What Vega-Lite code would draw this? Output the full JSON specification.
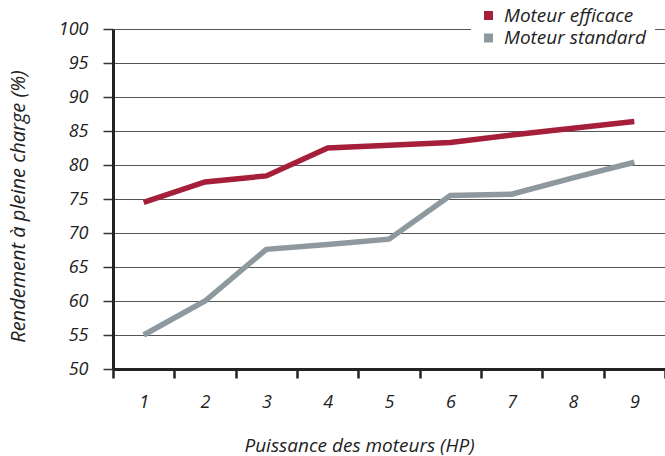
{
  "$schema": "https://vega.github.io/schema/vega-lite/v6.json",
  "width": 552,
  "height": 340,
  "autosize": "none",
  "padding": {"left": 113, "top": 29, "right": 0, "bottom": 87},
  "background": "white",
  "config": {"view": {"stroke": null}, "font": "Open Sans"},
  "data": {
    "values": [
      {"hp": "1", "moteur": "Moteur efficace", "rendement": 74.5},
      {"hp": "2", "moteur": "Moteur efficace", "rendement": 77.5},
      {"hp": "3", "moteur": "Moteur efficace", "rendement": 78.4},
      {"hp": "4", "moteur": "Moteur efficace", "rendement": 82.5},
      {"hp": "5", "moteur": "Moteur efficace", "rendement": 82.9},
      {"hp": "6", "moteur": "Moteur efficace", "rendement": 83.3},
      {"hp": "7", "moteur": "Moteur efficace", "rendement": 84.4},
      {"hp": "8", "moteur": "Moteur efficace", "rendement": 85.4},
      {"hp": "9", "moteur": "Moteur efficace", "rendement": 86.4},
      {"hp": "1", "moteur": "Moteur standard", "rendement": 55.0},
      {"hp": "2", "moteur": "Moteur standard", "rendement": 60.0},
      {"hp": "3", "moteur": "Moteur standard", "rendement": 67.6},
      {"hp": "4", "moteur": "Moteur standard", "rendement": 68.3},
      {"hp": "5", "moteur": "Moteur standard", "rendement": 69.1},
      {"hp": "6", "moteur": "Moteur standard", "rendement": 75.5},
      {"hp": "7", "moteur": "Moteur standard", "rendement": 75.7},
      {"hp": "8", "moteur": "Moteur standard", "rendement": 78.1},
      {"hp": "9", "moteur": "Moteur standard", "rendement": 80.4}
    ]
  },
  "mark": {"type": "line", "strokeWidth": 5.5},
  "encoding": {
    "x": {
      "field": "hp",
      "type": "ordinal",
      "scale": {"type": "band", "paddingInner": 0, "paddingOuter": 0},
      "axis": {
        "title": "Puissance des moteurs (HP)",
        "labelAngle": 0,
        "labelFontSize": 18,
        "labelFontStyle": "italic",
        "labelColor": "#222",
        "labelPadding": 15,
        "tickBand": "extent",
        "tickSize": 9,
        "tickWidth": 2.5,
        "tickColor": "#222",
        "domainWidth": 3,
        "domainColor": "#222",
        "grid": false,
        "titleFontSize": 19,
        "titleFontWeight": "normal",
        "titleFontStyle": "italic",
        "titleColor": "#222",
        "titleAlign": "center",
        "titleBaseline": "alphabetic",
        "titleX": 246,
        "titleY": 82
      }
    },
    "y": {
      "field": "rendement",
      "type": "quantitative",
      "scale": {"domain": [50, 100], "nice": false, "zero": false},
      "axis": {
        "title": "Rendement à pleine charge (%)",
        "values": [50, 55, 60, 65, 70, 75, 80, 85, 90, 95, 100],
        "grid": true,
        "gridColor": "#555",
        "gridWidth": 1,
        "domainWidth": 3,
        "domainColor": "#222",
        "tickSize": 10,
        "tickWidth": 1.5,
        "tickColor": "#333",
        "labelFontSize": 18,
        "labelFontStyle": "italic",
        "labelColor": "#222",
        "labelPadding": 15,
        "titleFontSize": 20,
        "titleFontWeight": "normal",
        "titleFontStyle": "italic",
        "titleColor": "#222",
        "titleAngle": 270,
        "titleAlign": "center",
        "titleBaseline": "bottom",
        "titleX": -85,
        "titleY": 177
      }
    },
    "color": {
      "field": "moteur",
      "type": "nominal",
      "scale": {"domain": ["Moteur efficace", "Moteur standard"], "range": ["#A51F3B", "#8E999F"]},
      "legend": {
        "title": null,
        "orient": "none",
        "legendX": 358,
        "legendY": -31,
        "padding": 8,
        "fillColor": "white",
        "symbolType": "square",
        "symbolSize": 81,
        "symbolStrokeWidth": 0,
        "labelFontSize": 19,
        "labelFontStyle": "italic",
        "labelColor": "#222",
        "labelOffset": 6,
        "labelLimit": 300,
        "rowPadding": 2.5,
        "encode": {
          "symbols": {"update": {"fill": {"scale": "color", "field": "value"}, "strokeWidth": {"value": 0}, "opacity": {"value": 1}}}
        }
      }
    }
  }
}
